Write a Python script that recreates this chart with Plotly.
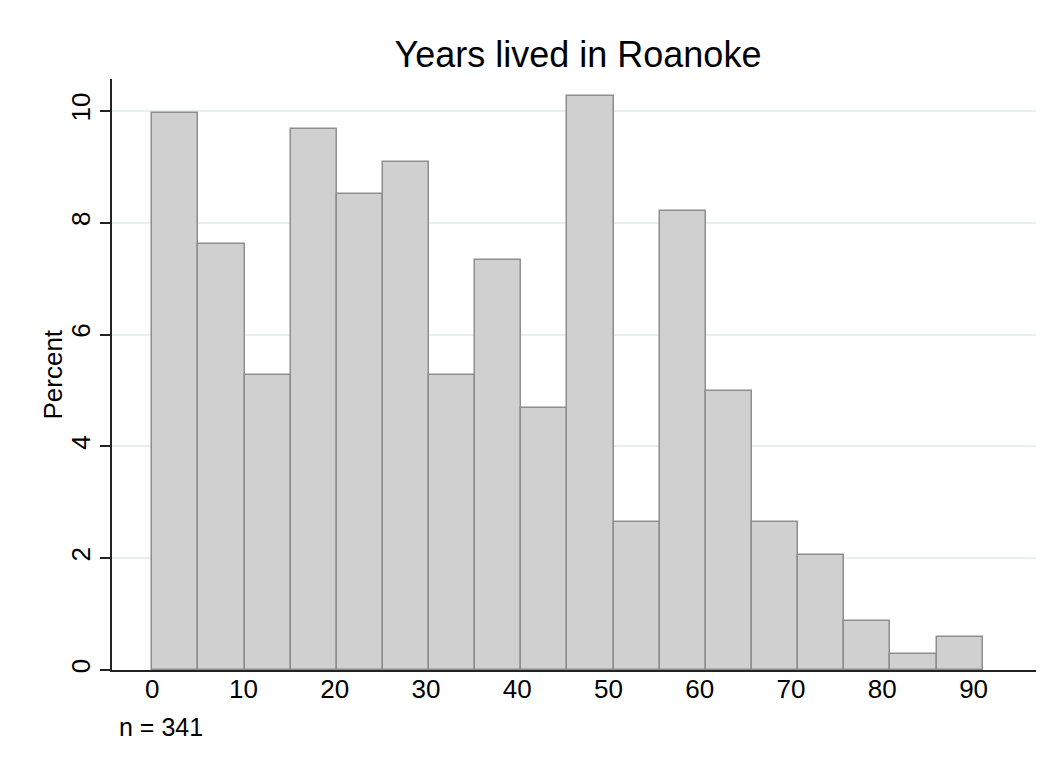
import plotly.graph_objects as go

# Data
counts = [34, 26, 18, 33, 29, 31, 18, 25, 16, 35, 9, 28, 17, 9, 7, 3, 1, 2]
bin_start = 0.0
bin_end = 91.0
n_total = 341
x_ticks = [0, 10, 20, 30, 40, 50, 60, 70, 80, 90]
y_ticks = [0, 2, 4, 6, 8, 10]

nb = len(counts)
width = (bin_end - bin_start) / nb
centers = [bin_start + width * (i + 0.5) for i in range(nb)]
percents = [c / n_total * 100 for c in counts]

FONT = "Liberation Sans, Arial, Helvetica, sans-serif"

fig = go.Figure()
fig.add_trace(go.Bar(
    x=centers, y=percents, width=[width] * nb,
    marker=dict(color="#d0d0d0", line=dict(color="#8e8e8e", width=1.5)),
    hoverinfo="x+y",
))

fig.update_layout(
    width=1035, height=754,
    paper_bgcolor="white", plot_bgcolor="white",
    margin=dict(l=104, r=7, t=71, b=92),
    showlegend=False,
    bargap=0,
    font=dict(family=FONT, color="black"),
    title=dict(text="Years lived in Roanoke", x=0.5507, xanchor="center",
               y=0.939, yanchor="middle",
               font=dict(size=36, family=FONT, color="black")),
    annotations=[
        dict(text="n = 341", xref="paper", yref="paper",
             x=0.0054, y=-0.069, xanchor="left", yanchor="top",
             showarrow=False, font=dict(size=25, family=FONT)),
        dict(text="Percent", xref="paper", yref="paper",
             x=-0.0649, y=0.5, xanchor="center", yanchor="middle",
             textangle=-90, showarrow=False, font=dict(size=26, family=FONT)),
    ],
)

fig.update_xaxes(
    range=[-4.41, 96.84], tickvals=x_ticks, showgrid=False, zeroline=False,
    showline=True, linecolor="#222", linewidth=2, ticks="",
    tickfont=dict(size=26, family=FONT), ticklabelstandoff=-5,
)
fig.update_yaxes(
    range=[0, 10.57], tickvals=y_ticks, showgrid=True, gridcolor="#e6f0f2",
    gridwidth=1.5, zeroline=False, showline=True, linecolor="#222", linewidth=2,
    ticks="outside", ticklen=10, tickcolor="#222", tickwidth=1.5,
    tickangle=-90, tickfont=dict(size=26, family=FONT),
)

fig.write_html("out.html")
